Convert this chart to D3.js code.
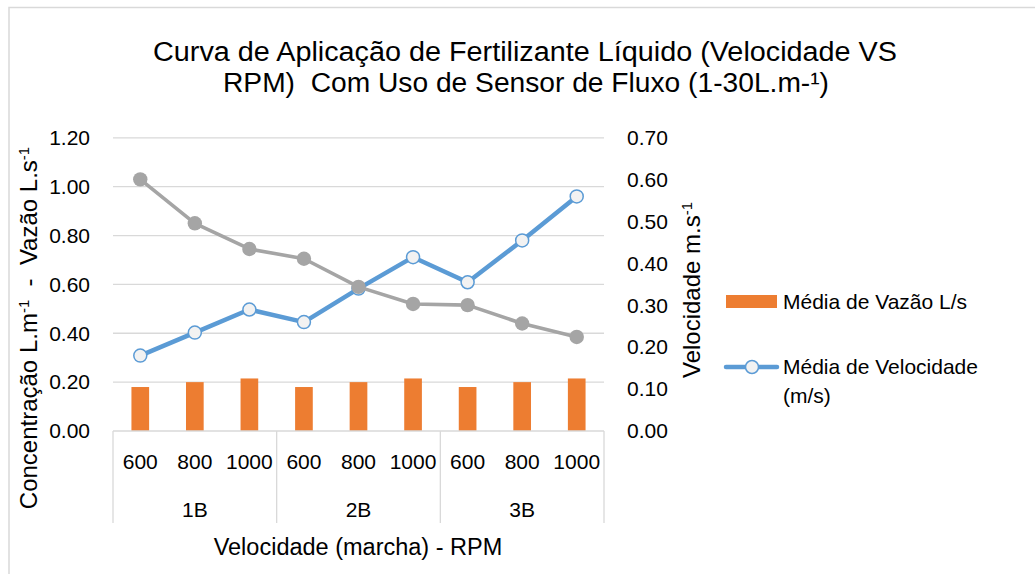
<!DOCTYPE html>
<html>
<head>
<meta charset="utf-8">
<script src="https://cdn.jsdelivr.net/npm/d3@7"></script>
<style>
  html, body { margin: 0; padding: 0; background: #fff; }
  svg { display: block; font-family: "Liberation Sans", Arial, sans-serif; }
  text { white-space: pre; }
</style>
</head>
<body>
<svg id="chart" width="1035" height="574"></svg>
<script>
// ---- data ----
const groups = ["1B", "2B", "3B"];
const rpms = ["600", "800", "1000"];
const vazao = [0.18, 0.20, 0.215, 0.18, 0.20, 0.215, 0.18, 0.20, 0.215];        // Média de Vazão L/s (left axis)
const velocidade = [0.18, 0.235, 0.29, 0.26, 0.34, 0.415, 0.355, 0.455, 0.56]; // Média de Velocidade (right axis)
const concentracao = [1.03, 0.85, 0.745, 0.705, 0.59, 0.52, 0.515, 0.44, 0.385]; // Concentração (left axis)
const leftTicks = [0, 0.2, 0.4, 0.6, 0.8, 1.0, 1.2];
const rightTicks = [0, 0.1, 0.2, 0.3, 0.4, 0.5, 0.6, 0.7];
const titleLines = ["Curva de Aplicação de Fertilizante Líquido (Velocidade VS", "RPM)  Com Uso de Sensor de Fluxo (1-30L.m-¹)"];
const legendLabels = ["Média de Vazão L/s", "Média de Velocidade", "(m/s)"];

const cats = [];
groups.forEach(g => rpms.forEach(r => cats.push(g + "|" + r)));

const svg = d3.select("#chart");
const L = 113, R = 604, T = 137.8, B = 431;

const x = d3.scaleBand().domain(cats).range([L, R]).padding(0);
const xb = d3.scaleBand().domain(cats).range([L, R]).paddingInner(0.676).paddingOuter(0.338);
const xg = d3.scaleBand().domain(groups).range([L, R]).padding(0);
const yL = d3.scaleLinear().domain([0, 1.2]).range([B, T]);
const yR = d3.scaleLinear().domain([0, 0.7]).range([B, T]);

// chart border (area outline)
svg.append("path").attr("d", "M9,574 V7.5 H1035").attr("fill", "none").attr("stroke", "#d9d9d9").attr("stroke-width", 1.5);

// title
const title = svg.append("text").attr("text-anchor", "middle").attr("font-size", 27).attr("fill", "#000");
title.append("tspan").attr("x", 525).attr("y", 61).attr("textLength", 744).attr("lengthAdjust", "spacingAndGlyphs").text(titleLines[0]);
title.append("tspan").attr("x", 526).attr("y", 92).attr("textLength", 606).attr("lengthAdjust", "spacingAndGlyphs").text(titleLines[1]);

// gridlines
svg.append("g").selectAll("line").data(leftTicks.filter(d => d > 0)).join("line")
  .attr("x1", L).attr("x2", R).attr("y1", d => yL(d)).attr("y2", d => yL(d))
  .attr("stroke", "#d9d9d9").attr("stroke-width", 1.3);

// left axis
const gl = svg.append("g").attr("transform", `translate(${L},0)`)
  .call(d3.axisLeft(yL).tickValues(leftTicks).tickFormat(d3.format(".2f")).tickSize(0).tickPadding(23));
gl.select(".domain").remove();
gl.selectAll("text").attr("font-size", 21).attr("font-family", "Liberation Sans, Arial, sans-serif").attr("fill", "#000");

// right axis
const gr = svg.append("g").attr("transform", `translate(${R},0)`)
  .call(d3.axisRight(yR).tickValues(rightTicks).tickFormat(d3.format(".2f")).tickSize(0).tickPadding(23));
gr.select(".domain").remove();
gr.selectAll("text").attr("font-size", 21).attr("font-family", "Liberation Sans, Arial, sans-serif").attr("fill", "#000");

// bars
svg.append("g").selectAll("rect").data(vazao).join("rect")
  .attr("x", (d, i) => xb(cats[i])).attr("width", xb.bandwidth())
  .attr("y", d => yL(d)).attr("height", d => yL(0) - yL(d))
  .attr("fill", "#ed7d31");

// category axis
const ax = svg.append("g");
ax.append("line").attr("x1", L).attr("x2", R).attr("y1", B).attr("y2", B).attr("stroke", "#d9d9d9").attr("stroke-width", 1.3);
const divs = groups.map(g => xg(g)).concat([xg(groups[groups.length - 1]) + xg.bandwidth()]);
ax.selectAll("line.div").data(divs).join("line").attr("class", "div")
  .attr("x1", d => d).attr("x2", d => d).attr("y1", B).attr("y2", 523)
  .attr("stroke", "#d9d9d9").attr("stroke-width", 1.3);
ax.selectAll("text.rpm").data(cats).join("text").attr("class", "rpm")
  .attr("x", d => x(d) + x.bandwidth() / 2).attr("y", 462).attr("dy", "0.35em")
  .attr("text-anchor", "middle").attr("font-size", 21).text(d => d.split("|")[1]);
ax.selectAll("text.grp").data(groups).join("text").attr("class", "grp")
  .attr("x", d => xg(d) + xg.bandwidth() / 2).attr("y", 510).attr("dy", "0.35em")
  .attr("text-anchor", "middle").attr("font-size", 21).text(d => d);

// x axis title
svg.append("text").attr("x", 358).attr("y", 547).attr("dy", "0.35em").attr("text-anchor", "middle")
  .attr("font-size", 23.5).text("Velocidade (marcha) - RPM");

// left axis title
const lt = svg.append("text").attr("transform", "translate(29,328) rotate(-90)").attr("text-anchor", "middle")
  .attr("dy", "0.35em").attr("font-size", 24);
lt.append("tspan").text("Concentração L.m");
lt.append("tspan").attr("baseline-shift", "super").attr("font-size", 15).text("-1");
lt.append("tspan").text("  -  Vazão L.s");
lt.append("tspan").attr("baseline-shift", "super").attr("font-size", 15).text("-1");

// right axis title
const rt = svg.append("text").attr("transform", "translate(692,290) rotate(-90)").attr("text-anchor", "middle")
  .attr("dy", "0.35em").attr("font-size", 24);
rt.append("tspan").text("Velocidade m.s");
rt.append("tspan").attr("baseline-shift", "super").attr("font-size", 15).text("-1");

// lines
const cx = (d, i) => x(cats[i]) + x.bandwidth() / 2;
const lineB = d3.line().x(cx).y(d => yR(d));
const lineG = d3.line().x(cx).y(d => yL(d));

svg.append("path").datum(velocidade).attr("d", lineB).attr("fill", "none")
  .attr("stroke", "#5b9bd5").attr("stroke-width", 4.5).attr("stroke-linejoin", "round").attr("stroke-linecap", "round");
svg.append("g").selectAll("circle").data(velocidade).join("circle")
  .attr("cx", cx).attr("cy", d => yR(d)).attr("r", 6.5)
  .attr("fill", "#f2f2f2").attr("stroke", "#5b9bd5").attr("stroke-width", 1.5);

svg.append("path").datum(concentracao).attr("d", lineG).attr("fill", "none")
  .attr("stroke", "#a5a5a5").attr("stroke-width", 3.6).attr("stroke-linejoin", "round").attr("stroke-linecap", "round");
svg.append("g").selectAll("circle").data(concentracao).join("circle")
  .attr("cx", cx).attr("cy", d => yL(d)).attr("r", 7.2)
  .attr("fill", "#a5a5a5");

// legend
const lg = svg.append("g");
lg.append("rect").attr("x", 726).attr("y", 295).attr("width", 51).attr("height", 13).attr("fill", "#ed7d31");
lg.append("text").attr("x", 783).attr("y", 302).attr("dy", "0.35em").attr("font-size", 21).text(legendLabels[0]);
lg.append("line").attr("x1", 726).attr("x2", 777).attr("y1", 367).attr("y2", 367)
  .attr("stroke", "#5b9bd5").attr("stroke-width", 4.5).attr("stroke-linecap", "round");
lg.append("circle").attr("cx", 752).attr("cy", 367).attr("r", 6.5)
  .attr("fill", "#f2f2f2").attr("stroke", "#5b9bd5").attr("stroke-width", 1.5);
lg.append("text").attr("x", 783).attr("y", 367).attr("dy", "0.35em").attr("font-size", 21).text(legendLabels[1]);
lg.append("text").attr("x", 783).attr("y", 396).attr("dy", "0.35em").attr("font-size", 21).text(legendLabels[2]);
</script>
</body>
</html>
